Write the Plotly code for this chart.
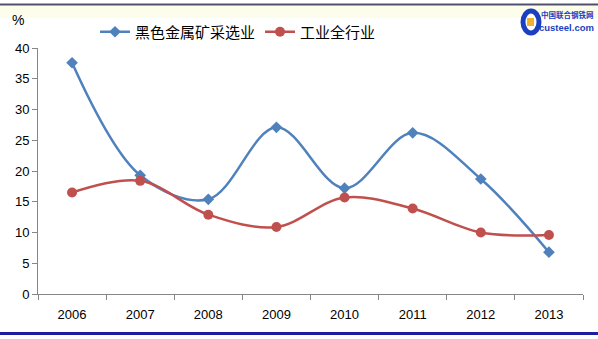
import plotly.graph_objects as go

years = ["2006", "2007", "2008", "2009", "2010", "2011", "2012", "2013"]
ferrous_mining = [37.6, 19.3, 15.4, 27.1, 17.2, 26.2, 18.7, 6.8]
all_industry = [16.5, 18.4, 12.9, 10.9, 15.7, 13.9, 10.0, 9.6]
y_ticks = [0, 5, 10, 15, 20, 25, 30, 35, 40]

W, H = 598, 339
L, R, T, B = 38, 15, 48, 45
pw = W - L - R
ph = H - T - B


def ax(px):
    return (px - L) / pw


def ay(py):
    return (H - B - py) / ph


fig = go.Figure()
fig.add_trace(go.Scatter(
    x=years, y=ferrous_mining, name="黑色金属矿采选业", mode="lines+markers",
    line=dict(color="#4F81BD", width=2.5, shape="spline", smoothing=1.0),
    marker=dict(symbol="diamond", size=9, color="#4F81BD"),
))
fig.add_trace(go.Scatter(
    x=years, y=all_industry, name="工业全行业", mode="lines+markers",
    line=dict(color="#C0504D", width=2.5, shape="spline", smoothing=1.0),
    marker=dict(symbol="circle", size=10, color="#C0504D"),
))

shapes = [
    # top faint band and line
    dict(type="rect", xref="paper", yref="paper", x0=ax(0), x1=ax(W),
         y0=ay(18), y1=ay(6), fillcolor="#FDFDEB", line=dict(width=0), layer="below"),
    dict(type="line", xref="paper", yref="paper", x0=ax(0), x1=ax(W),
         y0=ay(4.5), y1=ay(4.5), line=dict(color="#50506E", width=2)),
    # bottom blue line
    dict(type="line", xref="paper", yref="paper", x0=ax(0), x1=ax(W),
         y0=ay(333.5), y1=ay(333.5), line=dict(color="#1E1EA0", width=3)),
    # logo "C"
    dict(type="circle", xref="paper", yref="paper",
         x0=ax(523), x1=ax(539), y0=ay(33), y1=ay(11),
         line=dict(color="#1A3FC0", width=5), fillcolor="white", layer="below"),
    dict(type="rect", xref="paper", yref="paper",
         x0=ax(527), x1=ax(534), y0=ay(26), y1=ay(18),
         line=dict(width=0), fillcolor="#F0B030", layer="below"),
]

annotations = [
    dict(text="%", x=ax(18), y=ay(20), xref="paper", yref="paper", showarrow=False,
         font=dict(size=14, color="black", family="Liberation Sans, Arial"),
         xanchor="center", yanchor="middle"),
    dict(text="<b>中国联合钢铁网</b>", x=ax(596), y=ay(14), xref="paper", yref="paper", showarrow=False,
         font=dict(size=7.5, color="#1A3FC0", family="Noto Sans CJK SC"),
         xanchor="right", yanchor="middle"),
    dict(text="<b>custeel.com</b>", x=ax(596), y=ay(27.5), xref="paper", yref="paper", showarrow=False,
         font=dict(size=9.5, color="#1A3FC0", family="Liberation Sans Narrow, Liberation Sans, Arial"),
         xanchor="right", yanchor="middle"),
]

fig.update_layout(
    width=W, height=H,
    margin=dict(l=L, r=R, t=T, b=B),
    paper_bgcolor="white", plot_bgcolor="white",
    font=dict(family="Liberation Sans, Arial", size=13, color="black"),
    showlegend=True,
    legend=dict(orientation="h", x=ax(95), y=ay(32), xanchor="left", yanchor="middle",
                font=dict(size=15, family="Noto Sans CJK SC", color="black"),
                itemwidth=30, bgcolor="rgba(0,0,0,0)", tracegroupgap=0),
    shapes=shapes,
    annotations=annotations,
    xaxis=dict(type="category", showgrid=False, showline=True, linecolor="#868686", linewidth=1,
               ticks="outside", tickson="boundaries", ticklen=5, tickcolor="#868686",
               tickfont=dict(size=13), zeroline=False, range=[-0.5, 7.5],
               ticklabelstandoff=8),
    yaxis=dict(range=[0, 40], tickvals=y_ticks, showgrid=False, showline=True, linecolor="#868686",
               linewidth=1, ticks="outside", ticklen=5, tickcolor="#868686", zeroline=False,
               tickfont=dict(size=13)),
)

fig.write_html("out.html")
